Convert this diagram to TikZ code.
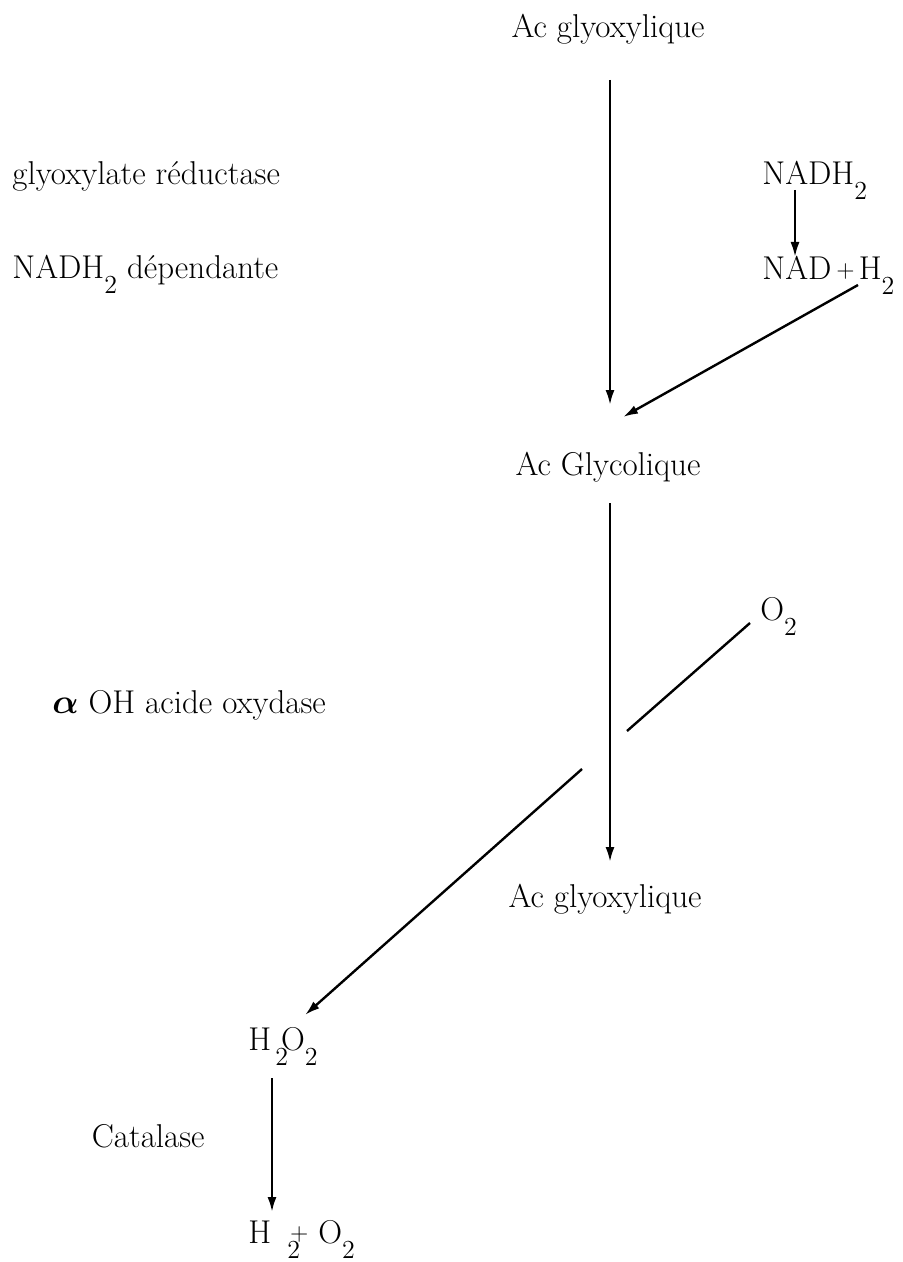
\documentclass[tikz,border=0pt]{standalone}
\usepackage{amsmath}
\usetikzlibrary{arrows.meta}
\newcommand{\low}[1]{\raisebox{-7.5pt}{\fontsize{13}{13}\selectfont #1}}
\newcommand{\smallplus}{\raisebox{1.5pt}{\fontsize{12}{12}\selectfont+}}

\begin{document}
\begin{tikzpicture}[x=0.5pt,y=-0.5pt,>={Latex[length=7.5pt,width=4.5pt]},
  font=\fontsize{16.5}{19}\selectfont,
  flow/.style={->,line width=1.2pt},
  link/.style={line width=1.2pt},
  chem/.style={inner sep=0pt,anchor=base},
  side/.style={inner sep=0pt,anchor=base west}]
  \useasboundingbox (0,0) rectangle (903,1262);
  % main chain
  \node[chem] (glyoxA) at (608,38) {Ac glyoxylique};
  \node[chem] (glycol) at (608,475) {Ac Glycolique};
  \node[chem] (glyoxB) at (605,907) {Ac glyoxylique};
  % cofactors
  \node[side] (nadh) at (762,185) {NADH\low{2}};
  \node[side] (nad) at (762,280) {NAD\kern2.5pt\smallplus\kern2pt H\low{2}};
  \node[side] (otwo) at (760,620) {O\low{2}};
  \node[side] (peroxide) at (248,1050) {H\kern2pt\low{2}\kern-3.5pt O\low{2}};
  \node[side] (water) at (248,1243) {H\kern8pt\low{2}\kern-5pt\smallplus\kern5pt O\low{2}};
  % enzymes
  \node[side] (reductase) at (12,185) {glyoxylate réductase};
  \node[side] (nadhdep) at (12,279) {NADH\low{2} dépendante};
  \node[side] (oxydase) at (52,713) {$\boldsymbol{\alpha}$ OH acide oxydase};
  \node[chem,anchor=base east] (catalase) at (205,1147) {Catalase};

  \coordinate (glyoxA-out) at (610,80);
  \coordinate (glycol-in) at (610,405);
  \coordinate (nadh-out) at (795,190);
  \coordinate (nad-in) at (795,257);
  \coordinate (nad-out) at (858,285);
  \coordinate (glycol-side) at (623,417);
  \coordinate (glycol-out) at (610,503);
  \coordinate (glyoxB-in) at (610,862);
  \coordinate (otwo-out) at (750,623);
  \coordinate (gap-r) at (627,731);
  \coordinate (gap-l) at (582,769);
  \coordinate (peroxide-in) at (305,1015);
  \coordinate (peroxide-out) at (272,1078);
  \coordinate (water-in) at (272,1212);

  \draw[flow] (glyoxA-out) -- (glycol-in);
  \draw[flow] (nadh-out) -- (nad-in);
  \draw[flow] (nad-out) -- (glycol-side);
  \draw[flow] (glycol-out) -- (glyoxB-in);
  % O2 line passes behind the main arrow
  \draw[link] (otwo-out) -- (gap-r);
  \draw[flow] (gap-l) -- (peroxide-in);
  \draw[flow] (peroxide-out) -- (water-in);
\end{tikzpicture}
\end{document}
